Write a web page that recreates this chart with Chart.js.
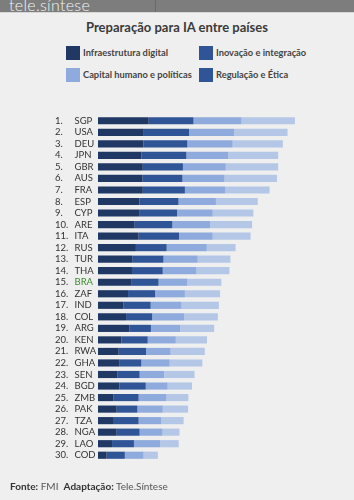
<!DOCTYPE html>
<html>
<head>
<meta charset="utf-8">
<script src="https://cdn.jsdelivr.net/npm/chart.js@4"></script>
<style>
  body { margin: 0; width: 354px; height: 500px; background: #efefef; font-family: Lato, "Open Sans", sans-serif; overflow: hidden; position: relative; }
  #topo { position: absolute; left: 0; top: 0; width: 354px; height: 12px; background: #7d7d7d; border-bottom: 1px solid #d8d8d8; overflow: hidden; }
  #topo .logo { position: absolute; left: 9px; top: -5px; color: #f4f4f4; font-size: 16px; font-weight: 300; letter-spacing: 0.3px; }
  #topo .div { position: absolute; left: 155px; top: 0; width: 1px; height: 12px; background: #6a6a6a; }
  #titulo { position: absolute; left: 0; top: 19px; width: 354px; text-align: center; font-size: 13px; font-weight: bold; color: #3a3a3a; }
  .leg { position: absolute; font-size: 9.3px; font-weight: bold; color: #444; line-height: 14px; white-space: nowrap; }
  .leg span { position: absolute; width: 14px; height: 14px; left: -17px; top: 0; }
  #fonte { position: absolute; left: 10px; top: 480px; font-size: 10px; color: #555; }
  #fonte b { color: #333; }
  #wrap { position: absolute; left: 0; top: 0; width: 354px; height: 500px; }
</style>
</head>
<body>
<div id="topo"><div class="logo">tele.síntese</div><div class="div"></div></div>
<div id="titulo">Preparação para IA entre países</div>
<div id="legenda"></div>
<div id="wrap"><canvas id="grafico"></canvas></div>
<div id="fonte"><b>Fonte:</b> FMI &nbsp;<b>Adaptação:</b> Tele.Síntese</div>

<script>
const paises = ["SGP","USA","DEU","JPN","GBR","AUS","FRA","ESP","CYP","ARE","ITA","RUS","TUR","THA","BRA",
                "ZAF","IND","COL","ARG","KEN","RWA","GHA","SEN","BGD","ZMB","PAK","TZA","NGA","LAO","COD"];
const posicoes = paises.map((p, i) => (i + 1) + ".");

const infraestrutura = [0.206,0.186,0.184,0.176,0.182,0.180,0.182,0.168,0.167,0.149,0.165,0.154,0.139,0.138,0.137,
                        0.122,0.104,0.114,0.127,0.095,0.084,0.088,0.078,0.087,0.062,0.076,0.061,0.076,0.057,0.035];
const inovacao = [0.182,0.184,0.179,0.183,0.163,0.163,0.171,0.159,0.154,0.153,0.164,0.125,0.127,0.125,0.109,
                  0.110,0.110,0.106,0.088,0.107,0.111,0.088,0.091,0.107,0.103,0.084,0.104,0.093,0.089,0.074];
const capitalHumano = [0.195,0.183,0.184,0.170,0.174,0.171,0.164,0.152,0.145,0.154,0.137,0.163,0.139,0.137,0.117,
                       0.121,0.125,0.130,0.119,0.114,0.100,0.115,0.100,0.089,0.113,0.103,0.092,0.093,0.106,0.076];
const regulacao = [0.217,0.217,0.204,0.203,0.213,0.213,0.180,0.170,0.165,0.170,0.154,0.117,0.133,0.134,0.138,
                   0.143,0.152,0.137,0.138,0.127,0.139,0.133,0.123,0.099,0.089,0.103,0.091,0.069,0.076,0.058];

const series = [
  { nome: "Infraestrutura digital", dados: infraestrutura, cor: "#1f3864", corLegenda: "#1f3864", x: 83, y: 46 },
  { nome: "Inovação e integração", dados: inovacao, cor: "#2f5597", corLegenda: "#2f5597", x: 216, y: 46 },
  { nome: "Capital humano e políticas", dados: capitalHumano, cor: "#8faadc", corLegenda: "#8faadc", x: 83, y: 68 },
  { nome: "Regulação e Ética", dados: regulacao, cor: "#b4c7e7", corLegenda: "#2f5597", x: 216, y: 68 }
];

// legenda em html (2x2)
const legenda = document.getElementById("legenda");
series.forEach(s => {
  legenda.innerHTML += `<div class="leg" style="left:${s.x}px;top:${s.y}px"><span style="background:${s.corLegenda}"></span>${s.nome}</div>`;
});

new Chart(document.getElementById("grafico"), {
  type: "bar",
  data: {
    labels: paises,
    datasets: series.map(s => ({
      label: s.nome,
      data: s.dados,
      backgroundColor: s.cor,
      borderWidth: 0,
      barPercentage: 0.62,
      categoryPercentage: 1
    }))
  },
  options: {
    indexAxis: "y",
    responsive: true,
    maintainAspectRatio: false,
    animation: false,
    layout: { padding: { top: 115, bottom: 39, left: 55, right: 0 } },
    plugins: { legend: { display: false }, tooltip: { enabled: false } },
    scales: {
      x: { stacked: true, display: false, min: 0, max: 1.04 },
      y: {
        stacked: true,
        weight: 0,
        grid: { display: false },
        border: { display: false },
        afterFit: s => { s.width = 23.5; },
        ticks: {
          autoSkip: false,
          crossAlign: "far",
          padding: 0,
          font: { family: "Lato", size: 9.5 },
          color: ctx => paises[ctx.index] === "BRA" ? "#3d8b2f" : "#333"
        }
      },
      yRank: {
        type: "category",
        labels: posicoes,
        position: "left",
        weight: 1,
        offset: true,
        grid: { display: false },
        border: { display: false },
        afterFit: s => { s.width = 19.5; },
        ticks: { autoSkip: false, crossAlign: "far", padding: 0, font: { family: "Lato", size: 9.5 }, color: "#333" }
      }
    }
  }
});
</script>
</body>
</html>
